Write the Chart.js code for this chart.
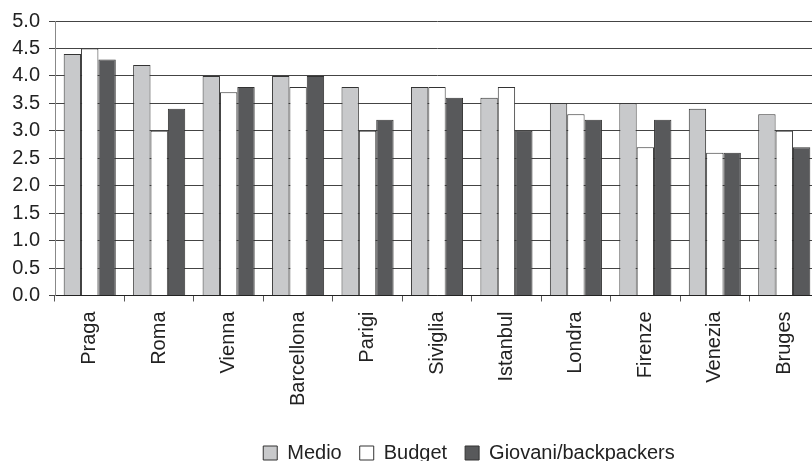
<!DOCTYPE html>
<html>
<head>
<meta charset="utf-8">
<script src="https://cdn.jsdelivr.net/npm/chart.js@4/dist/chart.umd.min.js"></script>
<style>
  html, body { margin: 0; padding: 0; background: #fff; overflow: hidden; }
  #wrap { width: 926px; height: 461px; }
</style>
</head>
<body>
<div id="wrap"><canvas id="chart" width="926" height="461"></canvas></div>
<script>
// cities and ratings per traveller type
const cities = ['Praga', 'Roma', 'Vienna', 'Barcellona', 'Parigi', 'Siviglia',
                'Istanbul', 'Londra', 'Firenze', 'Venezia', 'Bruges'];
const medio    = [4.4, 4.2, 4.0, 4.0, 3.8, 3.8, 3.6, 3.5, 3.5, 3.4, 3.3];
const budget   = [4.5, 3.0, 3.7, 3.8, 3.0, 3.8, 3.8, 3.3, 2.7, 2.6, 3.0];
const giovani  = [4.3, 3.4, 3.8, 4.0, 3.2, 3.6, 3.0, 3.2, 3.2, 2.6, 2.7];
const yTicks = { min: 0, max: 5, step: 0.5 };

const FONT = 'Liberation Sans, Arial, sans-serif';
const ink = '#222';

function bars(label, data, color) {
    return {
        label: label,
        data: data,
        backgroundColor: color,
        borderColor: '#333',
        borderWidth: 1,
        categoryPercentage: 0.75,
        barPercentage: 1.0
    };
}

const ctx = document.getElementById('chart').getContext('2d');
new Chart(ctx, {
    type: 'bar',
    data: {
        labels: cities,
        datasets: [
            bars('Medio', medio, '#c8c9cb'),
            bars('Budget', budget, '#ffffff'),
            bars('Giovani/backpackers', giovani, '#58595b')
        ]
    },
    options: {
        responsive: false,
        animation: false,
        layout: { padding: { top: 20, left: 12, right: 0, bottom: -12 } },
        plugins: {
            tooltip: { enabled: false },
            legend: {
                position: 'bottom',
                labels: {
                    color: ink,
                    font: { family: FONT, size: 20 },
                    boxWidth: 14,
                    boxHeight: 14,
                    padding: 18
                }
            }
        },
        scales: {
            x: {
                offset: true,
                grid: { drawOnChartArea: false, tickLength: 6, color: '#555' },
                border: { color: '#222' },
                ticks: {
                    autoSkip: false,
                    maxRotation: 90,
                    minRotation: 90,
                    padding: 10,
                    color: ink,
                    font: { family: FONT, size: 20 }
                },
                afterFit: s => { s.height += 9; }
            },
            y: {
                min: yTicks.min,
                max: yTicks.max,
                grid: { color: '#444', tickLength: 6 },
                border: { color: '#888' },
                ticks: {
                    stepSize: yTicks.step,
                    padding: 9,
                    color: ink,
                    font: { family: FONT, size: 20 },
                    callback: v => v.toFixed(1)
                },
                afterFit: s => { s.width = 43; }
            },
            // spacer on the right so the plot runs past the page edge
            y2: {
                position: 'right',
                grid: { display: false, drawTicks: false },
                border: { display: false },
                ticks: { display: false },
                afterFit: s => { s.width = 107; }
            }
        }
    }
});
</script>
</body>
</html>
